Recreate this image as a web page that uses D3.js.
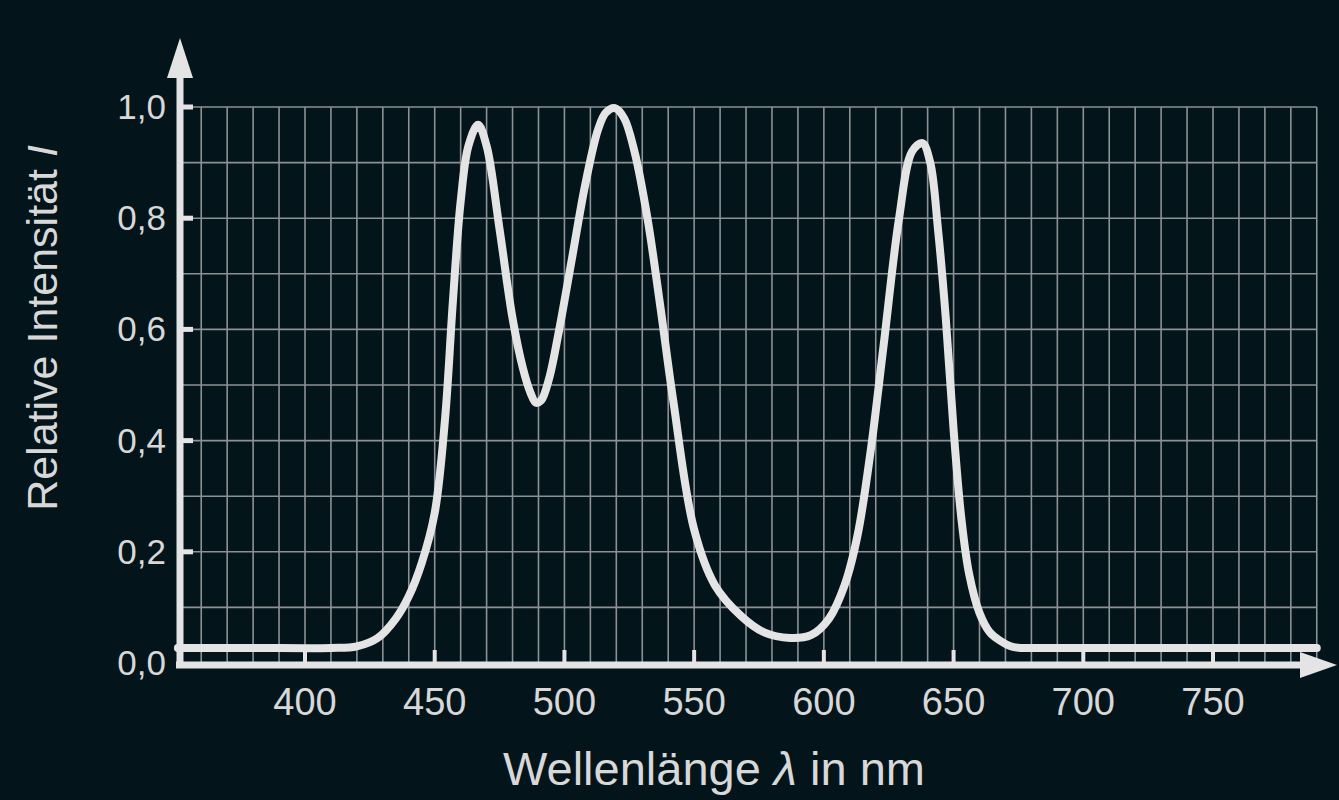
<!DOCTYPE html>
<html><head><meta charset="utf-8">
<script src="https://cdn.jsdelivr.net/npm/d3@7"></script>
<style>body{margin:0;background:#03151b}svg{display:block}</style>
</head><body><svg id="c" width="1339" height="800"></svg>
<script>
const wavelength = [351,380,410,420,428,435,440,445,450,454,457,460,463,466.7,470,475,480,484,487,489,491,494,498,503,508,513,516,519.5,523,527,532,537,542,550,558,568,577,587,595,602,608,613,618,623,629,634,638,641,644,647,650,653,656,660,664,668,672,676,680,700,790];
const intensity = [0.027,0.027,0.027,0.03,0.045,0.08,0.12,0.18,0.27,0.44,0.65,0.83,0.93,0.968,0.93,0.78,0.62,0.53,0.485,0.468,0.472,0.51,0.6,0.73,0.86,0.96,0.99,0.998,0.98,0.92,0.8,0.64,0.47,0.24,0.14,0.085,0.055,0.045,0.05,0.08,0.14,0.23,0.38,0.57,0.8,0.92,0.935,0.9,0.78,0.62,0.42,0.26,0.16,0.09,0.055,0.04,0.03,0.027,0.027,0.027,0.027];
const xTicks = [400,450,500,550,600,650,700,750];
const yTicks = [0,0.2,0.4,0.6,0.8,1.0];

const svg = d3.select("#c");
const x = d3.scaleLinear().domain([400,750]).range([305,1213]);
const y = d3.scaleLinear().domain([0,1]).range([663,107]);
const grid = "#8c9194", fg = "#e4e4e4";
const fmt = d => d3.format(".1f")(d).replace(".", ",");
const font = "Liberation Sans, Arial, sans-serif";

const g = svg.append("g").attr("stroke", grid).attr("stroke-width", 1.6);
d3.range(360, 791, 10).forEach(v => g.append("line").attr("x1", x(v)).attr("x2", x(v)).attr("y1", y(1)).attr("y2", y(0)));
d3.range(0.1, 1.01, 0.1).forEach(v => g.append("line").attr("x1", x(351)).attr("x2", x(790)).attr("y1", y(v)).attr("y2", y(v)));

svg.append("path").datum(wavelength.map((w,i)=>[w,intensity[i]]))
  .attr("d", d3.line().x(d=>x(d[0])).y(d=>y(d[1])).curve(d3.curveCatmullRom.alpha(0.5)))
  .attr("fill","none").attr("stroke",fg).attr("stroke-width",8).attr("stroke-linecap","round");

svg.append("line").attr("x1",180).attr("x2",180).attr("y1",668).attr("y2",70).attr("stroke",fg).attr("stroke-width",7);
svg.append("path").attr("d","M180,38 L167,78 L193,78 Z").attr("fill",fg);
svg.append("line").attr("x1",176).attr("x2",1305).attr("y1",665).attr("y2",665).attr("stroke",fg).attr("stroke-width",7);
svg.append("path").attr("d","M1337,665 L1300,652 L1300,678 Z").attr("fill",fg);

yTicks.forEach(v => {
  if (v>0) svg.append("line").attr("x1",180).attr("x2",193).attr("y1",y(v)).attr("y2",y(v)).attr("stroke",fg).attr("stroke-width",5);
  svg.append("text").attr("x",166).attr("y",y(v)+12).attr("text-anchor","end")
    .attr("font-family",font).attr("font-size",35).attr("fill","#d8d8d8").text(fmt(v));
});
xTicks.forEach(v => {
  svg.append("line").attr("x1",x(v)).attr("x2",x(v)).attr("y1",665).attr("y2",650).attr("stroke",fg).attr("stroke-width",4);
  svg.append("text").attr("x",x(v)).attr("y",715).attr("text-anchor","middle")
    .attr("font-family",font).attr("font-size",38).attr("fill","#d8d8d8").text(v);
});

const xt = svg.append("text").attr("x",714).attr("y",785).attr("text-anchor","middle")
  .attr("font-family",font).attr("font-size",47).attr("fill","#d8d8d8");
xt.append("tspan").text("Wellenlänge ");
xt.append("tspan").attr("font-style","italic").text("λ");
xt.append("tspan").text(" in nm");

const yt = svg.append("text").attr("transform","translate(57,328) rotate(-90)").attr("text-anchor","middle")
  .attr("font-family",font).attr("font-size",43).attr("fill","#d8d8d8");
yt.append("tspan").text("Relative Intensität ");
yt.append("tspan").attr("font-style","italic").text("I");
</script></body></html>
